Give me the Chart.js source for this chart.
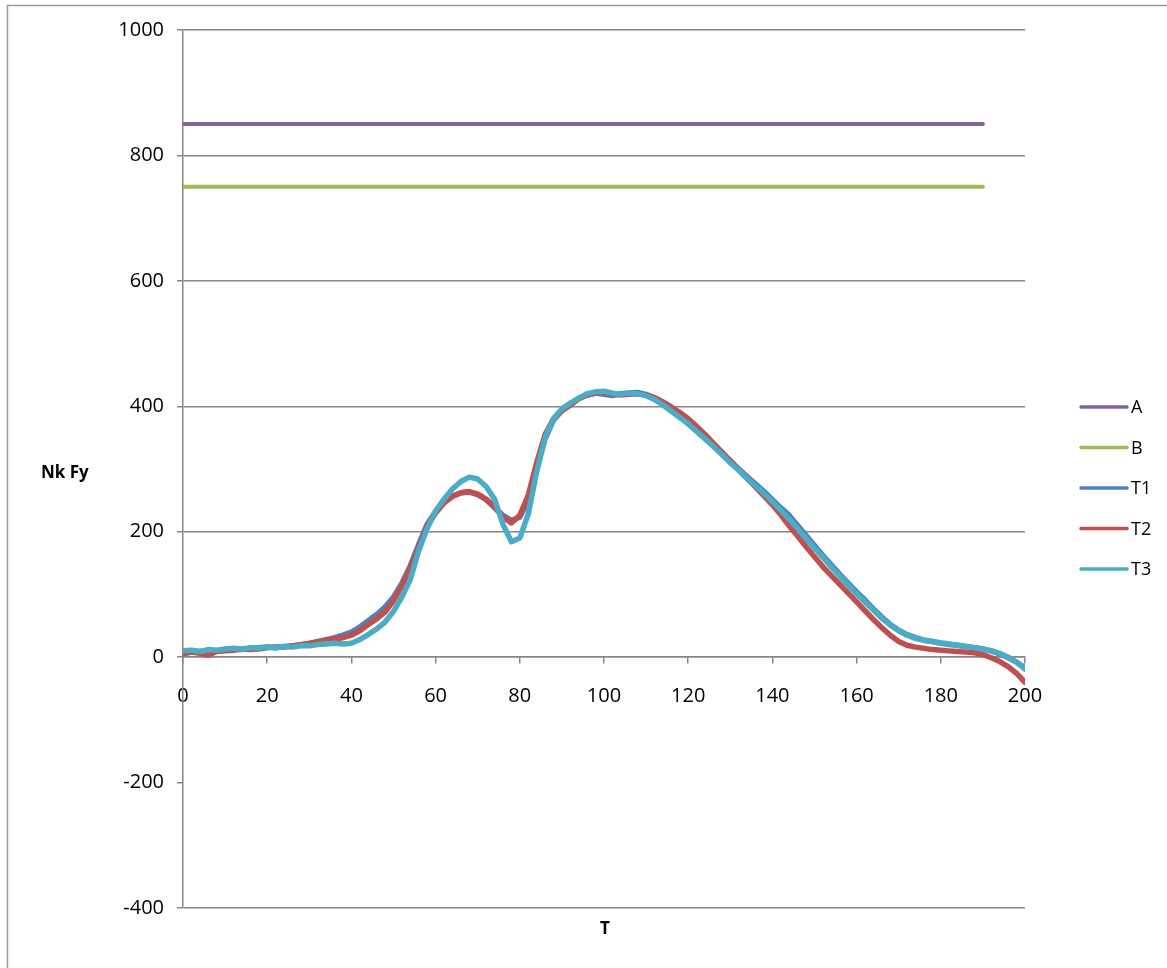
<!DOCTYPE html>
<html>
<head>
<meta charset="utf-8">
<script src="https://cdn.jsdelivr.net/npm/chart.js@4"></script>
<style>
  html, body { margin: 0; padding: 0; background: #fff; }
  #wrap { width: 1167px; height: 968px; }
</style>
</head>
<body>
<div id="wrap"><canvas id="chart" width="1167" height="968"></canvas></div>
<script>
// values
const tValues = [0,2,4,6,8,10,12,14,16,18,20,22,24,26,28,30,32,34,36,38,40,42,44,46,48,50,52,54,56,58,60,62,64,66,68,70,72,74,76,78,80,82,84,86,88,90,92,94,96,98,100,102,104,106,108,110,112,114,116,118,120,122,124,126,128,130,132,134,136,138,140,142,144,146,148,150,152,154,156,158,160,162,164,166,168,170,172,174,176,178,180,182,184,186,188,190,192,194,196,198,200];
const t1 = [8,10,9,11,10,12,13,12,14,15,16,15,17,18,20,22,25,28,31,35,40,48,58,68,80,96,118,146,180,212,232,247,257,262,263,259,251,238,226,218,223,250,300,348,378,393,402,413,418,421,419,417,420,421,422,419,413,404,395,385,375,364,351,338,326,313,300,288,276,264,251,238,226,210,194,178,162,147,132,118,104,91,77,64,52,43,36,31,27,25,22,20,19,17,15,13,10,5,-1,-8,-17];
const t2 = [5,8,6,3,9,10,11,13,12,13,15,16,16,18,20,22,24,27,29,31,35,42,52,61,72,90,114,142,176,210,230,246,256,262,264,260,252,240,224,214,226,258,310,355,380,393,402,412,418,421,422,420,418,419,420,418,414,407,399,390,380,368,355,341,327,313,299,285,271,257,243,227,209,193,176,160,144,130,116,102,88,74,60,47,35,25,19,16,14,12,11,10,9,8,7,4,-1,-7,-15,-26,-40];
const t3 = [10,11,9,12,11,13,14,13,15,14,16,15,17,16,18,18,20,21,22,21,22,28,36,45,56,73,96,124,170,205,233,252,268,280,287,284,272,252,212,184,190,228,295,350,380,396,405,413,420,423,424,421,419,421,420,417,411,402,392,382,372,360,348,336,323,310,298,285,273,261,248,234,220,205,189,174,159,144,129,115,101,88,75,62,51,42,35,30,27,25,23,21,19,17,15,13,10,6,0,-8,-19];
const limitT = [0, 190];
const aValues = [850, 850];
const bValues = [750, 750];
const yTicks = [1000, 800, 600, 400, 200, 0, -200, -400];

const seriesNames = ['A', 'B', 'T1', 'T2', 'T3'];
const seriesColors = ['#8064A2', '#9BBB59', '#4F81BD', '#C0504D', '#4BACC6'];

function pairs(xs, ys) {
  return xs.map((x, i) => ({ x: x, y: ys[i] }));
}

const FONT = '"Open Sans", "Liberation Sans", sans-serif';
const GRID = '#868686';

// frame, axis titles and the legend on the right
const extras = {
  id: 'extras',
  afterDraw(chart) {
    const ctx = chart.ctx;
    ctx.save();
    ctx.strokeStyle = '#9a9a9a';
    ctx.lineWidth = 1.5;
    ctx.strokeRect(7.5, 5.5, 1300, 1100);

    ctx.fillStyle = '#000';
    ctx.font = 'bold 17px ' + FONT;
    ctx.textBaseline = 'middle';
    ctx.textAlign = 'left';
    ctx.fillText('Nk Fy', 41, 473);
    ctx.textAlign = 'center';
    ctx.fillText('T', 605, 929);

    ctx.font = '18px ' + FONT;
    ctx.textAlign = 'left';
    ctx.lineCap = 'round';
    ctx.lineWidth = 3.5;
    chart.data.datasets.forEach((ds, i) => {
      const y = 407 + i * 40.5;
      ctx.strokeStyle = ds.borderColor;
      ctx.beginPath();
      ctx.moveTo(1081, y);
      ctx.lineTo(1127, y);
      ctx.stroke();
      ctx.fillText(ds.label, 1131, y + 1);
    });
    ctx.restore();
  }
};

const ctx = document.getElementById('chart').getContext('2d');
new Chart(ctx, {
  type: 'scatter',
  data: {
    datasets: [
      { label: seriesNames[0], data: pairs(limitT, aValues), borderColor: seriesColors[0], borderWidth: 4, order: 4 },
      { label: seriesNames[1], data: pairs(limitT, bValues), borderColor: seriesColors[1], borderWidth: 4, order: 3 },
      { label: seriesNames[2], data: pairs(tValues, t1), borderColor: seriesColors[2], borderWidth: 5.5, order: 2 },
      { label: seriesNames[3], data: pairs(tValues, t2), borderColor: seriesColors[3], borderWidth: 5.5, order: 1 },
      { label: seriesNames[4], data: pairs(tValues, t3), borderColor: seriesColors[4], borderWidth: 5.5, order: 0 }
    ].map(ds => Object.assign(ds, {
      showLine: true,
      pointRadius: 0,
      borderCapStyle: 'round',
      borderJoinStyle: 'round',
      tension: 0
    }))
  },
  options: {
    responsive: false,
    animation: false,
    layout: { padding: { left: 0, right: 142, top: 30, bottom: 60 } },
    plugins: { legend: { display: false }, tooltip: { enabled: false } },
    scales: {
      x: {
        type: 'linear',
        position: { y: 0 },
        min: 0,
        max: 200,
        ticks: { stepSize: 20, autoSkip: false, color: '#000', font: { family: FONT, size: 20 }, padding: 21, maxRotation: 0 },
        grid: { drawOnChartArea: false, tickLength: 6, color: GRID, lineWidth: 1.5 },
        border: { color: GRID, width: 1.5 }
      },
      y: {
        min: -400,
        max: 1000,
        afterBuildTicks(scale) { scale.ticks = yTicks.map(v => ({ value: v })); },
        afterFit(scale) { scale.width = 183; },
        ticks: { color: '#000', font: { family: FONT, size: 20 }, padding: 13, callback: v => String(v) },
        grid: {
          tickLength: 6,
          lineWidth: 1.5,
          color: c => (c.tick && c.tick.value === -200) ? 'rgba(0,0,0,0)' : GRID,
          tickColor: GRID
        },
        border: { color: GRID, width: 1.5 }
      }
    }
  },
  plugins: [extras]
});
</script>
</body>
</html>
